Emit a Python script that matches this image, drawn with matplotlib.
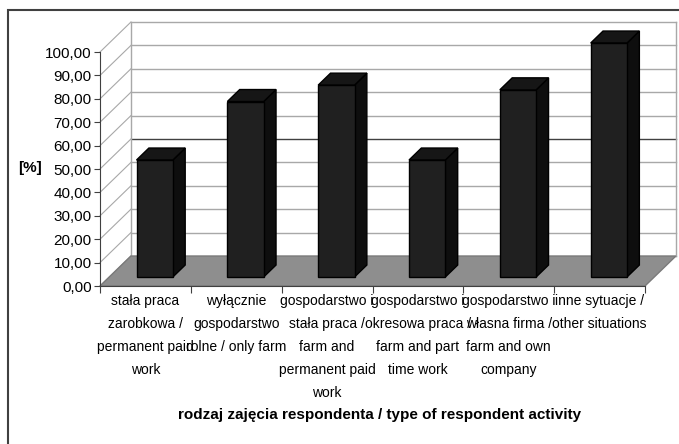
import matplotlib.pyplot as plt
from matplotlib.patches import Polygon, Rectangle

plt.rcParams['font.family'] = ['Liberation Sans Narrow', 'Liberation Sans', 'DejaVu Sans']

categories = [
    "stała praca\nzarobkowa /\npermanent paid\nwork",
    "wyłącznie\ngospodarstwo\nrolne / only farm",
    "gospodarstwo i\nstała praca /\nfarm and\npermanent paid\nwork",
    "gospodarstwo i\nokresowa praca /\nfarm and part\ntime work",
    "gospodarstwo i\nwłasna firma /\nfarm and own\ncompany",
    "inne sytuacje /\nother situations",
]
values = [50, 75, 82, 50, 80, 100]
y_ticks = list(range(0, 101, 10))

# fake 3d box: depth offset in data units
DX, DY = 0.34, 12.8
BAR_F = 0.3   # where the bar front sits inside the depth
BAR_D = 0.4   # bar depth (fraction of box depth)
BAR_W = 0.4

fig = plt.figure(figsize=(6.79, 4.44), dpi=100)
ax = fig.add_axes([100 / 679, 158 / 444, 545 / 679, 234 / 444])
ax.set_xlim(0, len(values))
ax.set_ylim(0, 100)

# outer frame (only top and left show, the rest is cropped)
fig.patches.append(Rectangle((8 / 679, -0.1), 1.2, 1 - 10 / 444 + 0.1,
                             transform=fig.transFigure, fill=False,
                             ec='#404040', lw=1.5))

n = len(values)
grid_c = '#a8a8a8'
# back wall and left wall grid
for v in y_ticks:
    c = '#404040' if v == 50 else grid_c
    ax.plot([DX, n + DX], [v + DY, v + DY], color=c, lw=1, clip_on=False, zorder=1)
    ax.plot([0, DX], [v, v + DY], color=grid_c, lw=0.8, clip_on=False, zorder=1)
ax.plot([DX, DX], [DY, 100 + DY], color=grid_c, lw=1, clip_on=False, zorder=1)
ax.plot([n + DX, n + DX], [DY, 100 + DY], color=grid_c, lw=1, clip_on=False, zorder=1)

# floor
floor = Polygon([(0, 0), (n, 0), (n + DX, DY), (DX, DY)], closed=True,
                fc='#8e8e8e', ec='#7a7a7a', lw=1, clip_on=False, zorder=2)
ax.add_patch(floor)

# bars
bdx, bdy = BAR_D * DX, BAR_D * DY
for i, v in enumerate(values):
    x0 = i + 0.5 - BAR_W / 2 + BAR_F * DX
    y0 = BAR_F * DY
    x1 = x0 + BAR_W
    side = Polygon([(x1, y0), (x1 + bdx, y0 + bdy), (x1 + bdx, y0 + v + bdy), (x1, y0 + v)],
                   fc='#0e0e0e', ec='black', lw=1, clip_on=False, zorder=3)
    top = Polygon([(x0, y0 + v), (x1, y0 + v), (x1 + bdx, y0 + v + bdy), (x0 + bdx, y0 + v + bdy)],
                  fc='#161616', ec='black', lw=1, clip_on=False, zorder=3)
    front = Rectangle((x0, y0), BAR_W, v, fc='#202020', ec='black', lw=1,
                      clip_on=False, zorder=4)
    ax.add_patch(side)
    ax.add_patch(top)
    ax.add_patch(front)

# axes
for s in ['top', 'right']:
    ax.spines[s].set_visible(False)
for s in ['left', 'bottom']:
    ax.spines[s].set_color('#404040')
    ax.spines[s].set_zorder(5)
ax.set_facecolor('none')

ax.set_yticks(y_ticks)
ax.set_yticklabels([f"{v:.2f}".replace('.', ',') for v in y_ticks], fontsize=11)
ax.tick_params(axis='y', length=4, pad=2, color='#404040')

ax.set_xticks(range(n + 1))
ax.set_xticklabels([])
ax.tick_params(axis='x', which='major', length=5, color='#404040')
ax.set_xticks([i + 0.5 for i in range(n)], minor=True)
ax.set_xticklabels(categories, minor=True, fontsize=10)
ax.tick_params(axis='x', which='minor', length=0, pad=6)
for t in ax.get_xticklabels(minor=True):
    t.set_linespacing(1.8)

fig.text(30 / 679, 1 - 168 / 444, "[%]", fontsize=11, fontweight='bold',
         ha='center', va='center')
fig.text(380 / 679, 1 - 415 / 444, "rodzaj zajęcia respondenta / type of respondent activity",
         fontsize=11, fontweight='bold', ha='center', va='center')

fig.savefig("out.png", dpi=100)
